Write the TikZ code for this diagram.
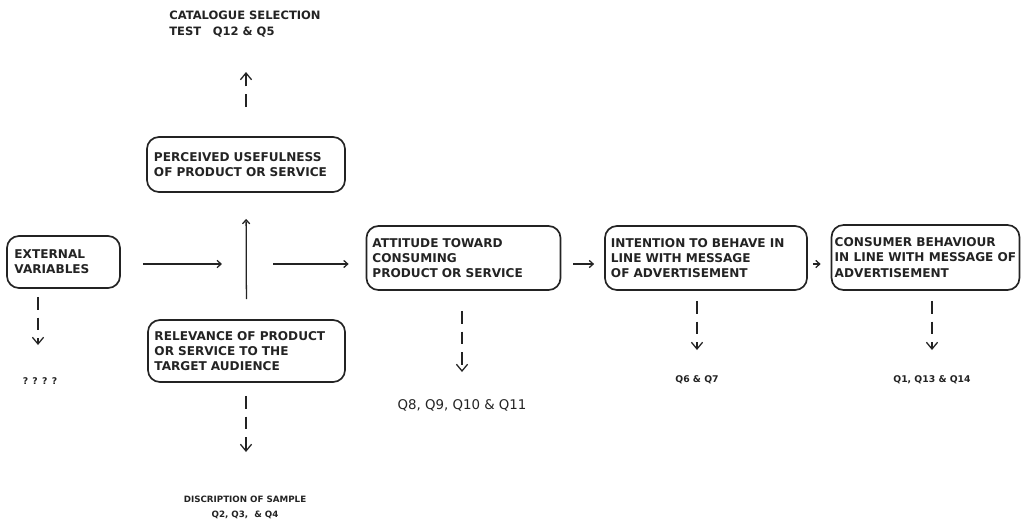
\documentclass[tikz,border=0pt]{standalone}
\usepackage{fontspec}
\setsansfont{DejaVu Sans}
\usetikzlibrary{arrows.meta}
\definecolor{tamInk}{RGB}{35,35,35}
\tikzset{
    base/.style={font=\sffamily\bfseries\fontsize{8.6}{10.8}\selectfont, text=tamInk},
    stage/.style={base, rectangle, rounded corners=3mm, draw=tamInk, line width=1.2pt,
                  align=left, inner sep=1.5mm},
    note/.style={base, font=\sffamily\bfseries\fontsize{6.6}{9}\selectfont, align=center, inner sep=0pt},
    flow/.style={-{Straight Barb[length=1mm,width=1.8mm]}, line width=0.9pt, color=tamInk},
    probe/.style={-{Straight Barb[length=1.7mm,width=2.8mm]}, line width=0.9pt, color=tamInk,
                  dash pattern=on 3.2mm off 2mm}
}
\begin{document}
\begin{tikzpicture}[x=0.025cm, y=-0.025cm]
    \useasboundingbox (0,0) rectangle (1021,529);

    % Boxes
    \node[stage, minimum width=4.95cm, minimum height=1.375cm, text width=4.6cm] (perc) at (246,164.5)
        {PERCEIVED USEFULNESS\\OF PRODUCT OR SERVICE};
    \node[stage, minimum width=2.825cm, minimum height=1.3cm, text width=2.45cm] (ext) at (63.5,262)
        {EXTERNAL\\VARIABLES};
    \node[stage, minimum width=4.925cm, minimum height=1.55cm, text width=4.6cm] (rel) at (246.5,351)
        {RELEVANCE OF PRODUCT\\OR SERVICE TO THE\\TARGET AUDIENCE};
    \node[stage, minimum width=4.825cm, minimum height=1.6cm, text width=4.55cm] (att) at (463.5,258)
        {ATTITUDE TOWARD\\CONSUMING\\PRODUCT OR SERVICE};
    \node[stage, minimum width=5.05cm, minimum height=1.6cm, text width=4.75cm] (int) at (706,258)
        {INTENTION TO BEHAVE IN\\LINE WITH MESSAGE\\OF ADVERTISEMENT};
    \node[stage, inner xsep=0.8mm, minimum width=4.675cm, minimum height=1.625cm] (con) at (925.5,257.5)
        {CONSUMER BEHAVIOUR\\IN LINE WITH MESSAGE OF\\ADVERTISEMENT};

    % Measures
    \node[note, align=left, font=\sffamily\bfseries\fontsize{8.2}{12}\selectfont] (cat) at (245,24)
        {CATALOGUE SELECTION\\TEST\quad Q12 \& Q5};
    \node[note] (qq) at (40,381) {? ? ? ?};
    \node[note, font=\sffamily\bfseries\fontsize{6.2}{10.6}\selectfont] (desc) at (245,507)
        {DISCRIPTION OF SAMPLE\\Q2, Q3,\ \ \& Q4};
    \node[note, font=\sffamily\fontsize{9.5}{11}\selectfont] (q8) at (462,405) {Q8, Q9, Q10 \& Q11};
    \node[note] (q6) at (697,380) {Q6 \& Q7};
    \node[note] (q1) at (932,380) {Q1, Q13 \& Q14};

    % Arrow tips and hub
    \coordinate (hub) at (246,264);
    \coordinate (catTip) at (246,72);
    \coordinate (extTip) at (38,345);
    \coordinate (relTip) at (246,452);
    \coordinate (attTip) at (462,372);
    \coordinate (intTip) at (697,350);
    \coordinate (conTip) at (932,350);

    % Main flow
    \draw[flow, shorten <=5mm, shorten >=6.5mm] (rel.north) -- (perc.south);
    \draw[flow, shorten <=5.5mm, shorten >=6mm] (ext.east |- hub) -- (hub);
    \draw[flow, shorten <=6.75mm, shorten >=4.25mm] (hub) -- (att.west |- hub);
    \draw[flow, shorten <=3mm, shorten >=2.5mm] (att.east |- hub) -- (int.west |- hub);
    \draw[flow, shorten <=1.25mm, shorten >=2.5mm] (int.east |- hub) -- (con.west |- hub);

    % Measured by
    \draw[probe, shorten <=7.25mm] (perc.north) -- (catTip);
    \draw[probe, shorten <=2mm] (ext.south -| extTip) -- (extTip);
    \draw[probe, shorten <=3.25mm] (rel.south -| relTip) -- (relTip);
    \draw[probe, shorten <=5mm] (att.south -| attTip) -- (attTip);
    \draw[probe, shorten <=2.5mm] (int.south -| intTip) -- (intTip);
    \draw[probe, shorten <=2.5mm] (con.south -| conTip) -- (conTip);
\end{tikzpicture}
\end{document}
